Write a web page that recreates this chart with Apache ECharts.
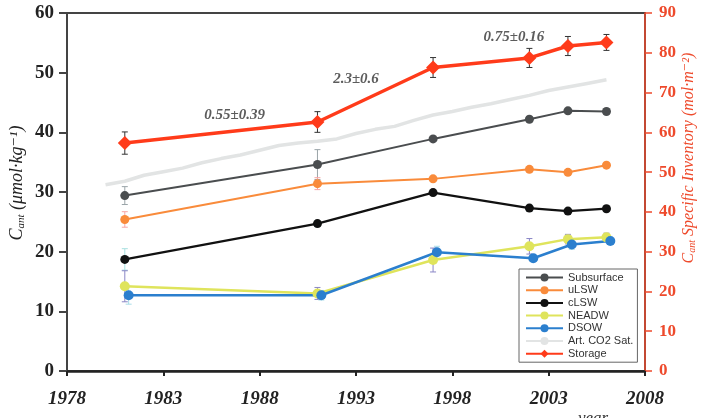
<!DOCTYPE html>
<html>
<head>
<meta charset="utf-8">
<script src="https://cdn.jsdelivr.net/npm/echarts@6/dist/echarts.min.js"></script>
<style>
  html, body { margin: 0; padding: 0; background: #fff; }
  #chart { width: 705px; height: 418px; }
</style>
</head>
<body>
<div id="chart"></div>
<script>
// 各层数据（年份 + 数值）
var years = [1981, 1991, 1997, 2002, 2004, 2006];
var dsowYears = [1981.2, 1991.2, 1997.2, 2002.2, 2004.2, 2006.2];

var subsurface = [29.4, 34.6, 38.9, 42.2, 43.6, 43.5];
var subsurfaceErr = [1.5, 2.5, 0.4, 0.4, 0.4, 0.4];
var uLSW = [25.4, 31.4, 32.2, 33.8, 33.3, 34.5];
var uLSWErr = [1.3, 1.0, 0.4, 0.4, 0.4, 0.4];
var cLSW = [18.7, 24.7, 29.9, 27.3, 26.8, 27.2];
var cLSWErr = [1.8, 0.5, 0.5, 0.5, 0.5, 0.5];
var NEADW = [14.2, 13.0, 18.6, 20.9, 22.1, 22.4];
var NEADWErr = [2.6, 1.0, 2.0, 1.3, 0.8, 0.7];
var DSOW = [12.7, 12.7, 19.9, 18.9, 21.2, 21.8];
var DSOWErr = [1.5, 0.8, 1.0, 0.5, 0.8, 0.6];

// 人为CO2饱和（逐年）
var satYears = [1980, 1981, 1982, 1983, 1984, 1985, 1986, 1987, 1988, 1989, 1990, 1991, 1992, 1993,
                1994, 1995, 1996, 1997, 1998, 1999, 2000, 2001, 2002, 2003, 2004, 2005, 2006];
var satValues = [31.2, 31.8, 32.8, 33.4, 34.0, 34.9, 35.6, 36.2, 37.0, 37.8, 38.2, 38.5, 38.9, 39.8,
                 40.5, 41.0, 42.0, 42.9, 43.5, 44.2, 44.8, 45.5, 46.2, 47.0, 47.6, 48.2, 48.8];

// 储量（右轴）
var storage = [57.3, 62.6, 76.3, 78.7, 81.7, 82.6];
var storageErr = [2.8, 2.6, 2.5, 2.4, 2.4, 2.0];

// 速率注释
var rateLabels = ['0.55±0.39', '2.3±0.6', '0.75±0.16'];
var rateX = [1986.7, 1993.0, 2001.2];
var rateY = [42.9, 48.9, 55.9];

var xTicks = [1978, 1983, 1988, 1993, 1998, 2003, 2008];

function pairs(xs, ys) {
    return xs.map(function (x, i) { return [x, ys[i]]; });
}

// 误差棒
function errorSeries(xs, ys, errs, color, yAxisIndex) {
    return {
        type: 'custom',
        yAxisIndex: yAxisIndex || 0,
        silent: true,
        z: 1,
        data: xs.map(function (x, i) { return [x, ys[i] - errs[i], ys[i] + errs[i]]; }),
        renderItem: function (params, api) {
            var lo = api.coord([api.value(0), api.value(1)]);
            var hi = api.coord([api.value(0), api.value(2)]);
            var w = 3;
            var style = { stroke: color, lineWidth: 1 };
            return {
                type: 'group',
                children: [
                    { type: 'line', shape: { x1: lo[0], y1: lo[1], x2: hi[0], y2: hi[1] }, style: style },
                    { type: 'line', shape: { x1: lo[0] - w, y1: lo[1], x2: lo[0] + w, y2: lo[1] }, style: style },
                    { type: 'line', shape: { x1: hi[0] - w, y1: hi[1], x2: hi[0] + w, y2: hi[1] }, style: style }
                ]
            };
        }
    };
}

function lineSeries(name, xs, ys, color, size, width) {
    return {
        name: name,
        type: 'line',
        data: pairs(xs, ys),
        symbol: 'circle',
        symbolSize: size,
        z: 3,
        itemStyle: { color: color },
        lineStyle: { color: color, width: width }
    };
}

var serif = 'Liberation Serif, DejaVu Serif, serif';
var red = '#ee4a2c';

function axisTitle(text, color, size) {
    return {
        c: { fontFamily: serif, fontStyle: 'italic', fontSize: size, fill: color },
        s: { fontFamily: serif, fontStyle: 'italic', fontSize: Math.round(size * 0.6), fill: color, padding: [size * 0.45, 0, 0, 0] },
        t: { fontFamily: serif, fontStyle: 'italic', fontSize: size, fill: color }
    };
}

var echart = echarts.init(document.getElementById('chart'));
var option = {
    animation: false,
    backgroundColor: '#fff',
    grid: {
        left: 67, right: 60, top: 13, bottom: 47,
        show: true, borderColor: '#444', borderWidth: 2
    },
    legend: {
        orient: 'vertical',
        left: 519, top: 269,
        itemWidth: 37, itemHeight: 10, itemGap: 1.7,
        padding: [3, 4, 3, 6],
        borderColor: '#666', borderWidth: 1,
        backgroundColor: '#fff',
        textStyle: { fontFamily: 'Liberation Sans Narrow, Liberation Sans, sans-serif', fontSize: 11, color: '#333' },
        data: ['Subsurface', 'uLSW', 'cLSW', 'NEADW', 'DSOW', 'Art. CO2 Sat.', 'Storage']
    },
    xAxis: {
        type: 'value',
        min: 1978, max: 2008, interval: 5,
        splitLine: { show: false },
        axisLine: { lineStyle: { color: '#222', width: 2.5 } },
        axisTick: { show: true, inside: false, length: 5, lineStyle: { color: '#222', width: 2 } },
        axisLabel: {
            margin: 19,
            fontFamily: serif, fontSize: 19, fontWeight: 'bold', fontStyle: 'italic', color: '#222',
            formatter: function (v) { return xTicks.indexOf(v) >= 0 ? String(v) : ''; }
        }
    },
    yAxis: [{
        type: 'value',
        min: 0, max: 60, interval: 10,
        splitLine: { show: false },
        axisLine: { show: true, lineStyle: { color: '#444', width: 2 } },
        axisTick: { show: true, length: 8, lineStyle: { color: '#444', width: 2 } },
        axisLabel: { margin: 13, fontFamily: serif, fontSize: 19, fontWeight: 'bold', color: '#222' }
    }, {
        type: 'value',
        position: 'right',
        min: 0, max: 90, interval: 10,
        splitLine: { show: false },
        axisLine: { show: true, lineStyle: { color: red, width: 1.5 } },
        axisTick: { show: true, length: 7, lineStyle: { color: red, width: 1.5 } },
        axisLabel: { margin: 14, fontFamily: serif, fontSize: 17, fontWeight: 'bold', color: red }
    }],
    graphic: [{
        type: 'text', x: 17, y: 183, rotation: Math.PI / 2,
        style: {
            text: '{c|C}{s|ant}{t| (μmol·kg⁻¹)}',
            align: 'center', verticalAlign: 'middle',
            rich: axisTitle('', '#222', 18)
        }
    }, {
        type: 'text', x: 689, y: 158, rotation: Math.PI / 2,
        style: {
            text: '{c|C}{s|ant}{t| Specific Inventory (mol·m⁻²)}',
            align: 'center', verticalAlign: 'middle',
            rich: axisTitle('', red, 16)
        }
    }, {
        type: 'text', left: 578, top: 410,
        style: { text: 'year', font: 'italic 17px Liberation Serif', fill: '#333' }
    }],
    series: [
        {
            name: 'Art. CO2 Sat.',
            type: 'line',
            data: pairs(satYears, satValues),
            symbol: 'none',
            z: 2,
            itemStyle: { color: '#e2e4e4' },
            lineStyle: { color: '#e2e4e4', width: 3.5 }
        },
        errorSeries(years, subsurface, subsurfaceErr, '#9aa4a8'),
        errorSeries(years, uLSW, uLSWErr, '#f7a6a6'),
        errorSeries(years, cLSW, cLSWErr, '#a8e0e0'),
        errorSeries(years, NEADW, NEADWErr, '#8a86c6'),
        errorSeries(dsowYears, DSOW, DSOWErr, '#a8dce8'),
        lineSeries('Subsurface', years, subsurface, '#4a4d4f', 9, 2),
        lineSeries('uLSW', years, uLSW, '#f98b3b', 9, 2),
        lineSeries('cLSW', years, cLSW, '#111111', 9, 2.2),
        lineSeries('NEADW', years, NEADW, '#dfe45c', 10, 2.5),
        lineSeries('DSOW', dsowYears, DSOW, '#2b7fce', 10, 2.5),
        errorSeries(years, storage, storageErr, '#333', 1),
        {
            name: 'Storage',
            type: 'line',
            yAxisIndex: 1,
            data: pairs(years, storage),
            symbol: 'diamond',
            symbolSize: 14,
            z: 4,
            itemStyle: { color: '#ff3b1a' },
            lineStyle: { color: '#ff3b1a', width: 3.5 }
        },
        {
            type: 'scatter',
            symbolSize: 0,
            silent: true,
            z: 5,
            data: rateX.map(function (x, i) { return { value: [x, rateY[i]], name: rateLabels[i] }; }),
            label: {
                show: true,
                position: 'inside',
                formatter: '{b}',
                fontFamily: serif, fontSize: 15, fontWeight: 'bold', fontStyle: 'italic', color: '#333'
            }
        }
    ]
};
echart.setOption(option);
</script>
</body>
</html>
